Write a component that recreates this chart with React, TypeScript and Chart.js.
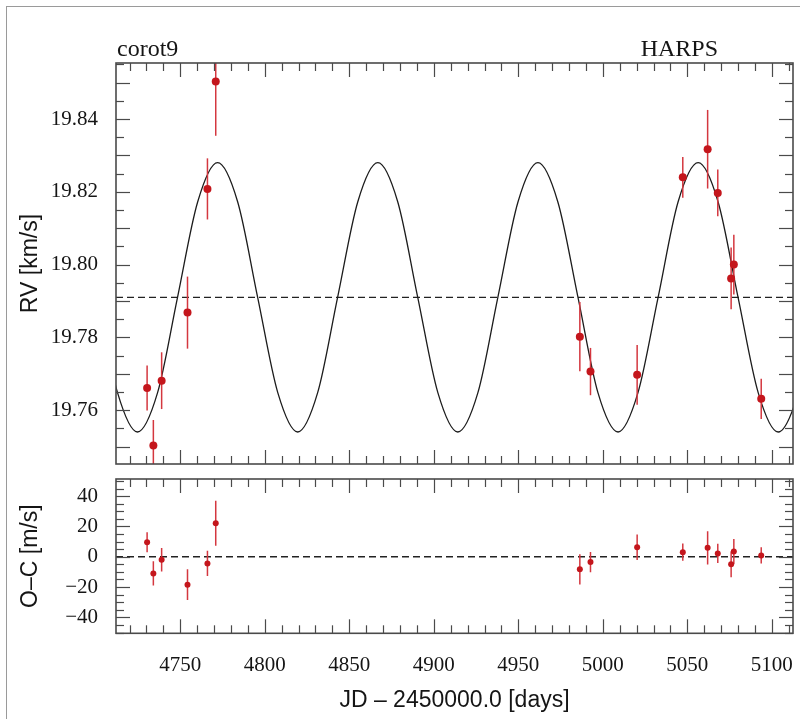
import React, { useEffect, useRef } from 'react';
import { Chart, registerables } from 'chart.js';

Chart.register(...registerables);

// ---- observations (HARPS) ----
const obsTimes = [4730.4, 4734.1, 4739.0, 4754.3, 4766.1, 4771.0, 4986.4, 4992.7, 5020.3, 5047.3, 5062.0, 5068.0, 5075.9, 5077.5, 5093.7];
const rvValues = [19.7661, 19.7503, 19.7681, 19.7868, 19.8208, 19.8503, 19.7802, 19.7706, 19.7697, 19.824, 19.8317, 19.8197, 19.7962, 19.8, 19.7631];
const rvErrors = [0.0062, 0.007, 0.0078, 0.0099, 0.0084, 0.0149, 0.0095, 0.0065, 0.0082, 0.0056, 0.0108, 0.0064, 0.0085, 0.0082, 0.0055];
const ocValues = [9.6, -11, -2, -18.4, -4.4, 22.1, -8.3, -3.5, 6.3, 3.0, 5.9, 2.2, -5.0, 3.5, 0.9];
const ocErrors = [6.6, 8, 7.7, 10.2, 8.3, 14.8, 10, 6.7, 8.4, 5.7, 11, 6.3, 8.5, 8.2, 5.4];

// ---- orbit model curve (extrema, mean crossings, octants) ----
const modelTimes = [4701.0, 4712.9, 4724.7, 4736.6, 4748.4, 4760.3, 4772.1, 4784.0, 4795.8, 4807.7, 4819.5, 4831.3, 4843.1, 4855.0, 4866.9, 4878.7, 4890.5, 4902.4, 4914.2, 4926.1, 4937.9, 4949.8, 4961.6, 4973.4, 4985.3, 4997.1, 5009.0, 5020.8, 5032.7, 5044.5, 5056.4, 5068.2, 5080.0, 5091.9, 5103.7, 5115.6, 5127.4];
const modelRV = [19.791, 19.7648, 19.754, 19.7648, 19.791, 19.8172, 19.828, 19.8172, 19.791, 19.7648, 19.754, 19.7648, 19.791, 19.8172, 19.828, 19.8172, 19.791, 19.7648, 19.754, 19.7648, 19.791, 19.8172, 19.828, 19.8172, 19.791, 19.7648, 19.754, 19.7648, 19.791, 19.8172, 19.828, 19.8172, 19.791, 19.7648, 19.754, 19.7648, 19.791];
const systemicRV = 19.791;

// ---- ticks ----
const xTickValues = [4750, 4800, 4850, 4900, 4950, 5000, 5050, 5100];
const rvTickValues = [19.76, 19.78, 19.8, 19.82, 19.84];
const ocTickValues = [-40, -20, 0, 20, 40];

const X_MIN = 4712, X_MAX = 5112.5;
const RV_MIN = 19.7452, RV_MAX = 19.8554;
const OC_MIN = -50.5, OC_MAX = 51.3;

const SERIF = "'Liberation Serif', 'Times New Roman', serif";
const SANS = "'Liberation Sans', Arial, sans-serif";
const INK = '#151515';
const FRAME = '#4a4a4a';

type FrameCfg = {
  values: number[];
  errors: number[];
  yMinor: number;
  yMajorEvery: number;
  corner?: boolean;
};

function makeFramePlugin(cfg: FrameCfg) {
  return {
    id: 'frameTicks',
    beforeDatasetDraw(chart: any, args: any) {
      if (args.index !== 0) return;
      const { ctx, chartArea: a } = chart;
      const xs = chart.scales.x, ys = chart.scales.y;
      ctx.save();
      ctx.beginPath();
      ctx.rect(a.left, a.top, a.right - a.left, a.bottom - a.top);
      ctx.clip();
      ctx.strokeStyle = '#d4373f';
      ctx.lineWidth = 1.5;
      obsTimes.forEach((t, i) => {
        const px = xs.getPixelForValue(t);
        ctx.beginPath();
        ctx.moveTo(px, ys.getPixelForValue(cfg.values[i] - cfg.errors[i]));
        ctx.lineTo(px, ys.getPixelForValue(cfg.values[i] + cfg.errors[i]));
        ctx.stroke();
      });
      ctx.restore();
    },
    afterDraw(chart: any) {
      const { ctx, chartArea: a } = chart;
      const xs = chart.scales.x, ys = chart.scales.y;
      ctx.save();
      ctx.strokeStyle = FRAME;
      ctx.lineWidth = 1.2;
      const seg = (x1: number, y1: number, x2: number, y2: number) => {
        ctx.beginPath();
        ctx.moveTo(x1, y1);
        ctx.lineTo(x2, y2);
        ctx.stroke();
      };
      // x ticks every 10 days, long every 50
      for (let k = Math.ceil(xs.min / 10); k <= Math.floor(xs.max / 10); k++) {
        const px = Math.round(xs.getPixelForValue(k * 10)) + 0.5;
        const len = k % 5 === 0 ? 14 : 8;
        seg(px, a.bottom, px, a.bottom - len);
        seg(px, a.top, px, a.top + len);
      }
      // y ticks
      for (let k = Math.ceil(ys.min / cfg.yMinor - 1e-9); k <= Math.floor(ys.max / cfg.yMinor + 1e-9); k++) {
        const py = Math.round(ys.getPixelForValue(k * cfg.yMinor)) + 0.5;
        const len = k % cfg.yMajorEvery === 0 ? 14 : 8;
        seg(a.left, py, a.left + len, py);
        seg(a.right, py, a.right - len, py);
      }
      // frame
      ctx.lineWidth = 1.6;
      ctx.strokeRect(a.left, a.top, a.right - a.left, a.bottom - a.top);
      if (cfg.corner) {
        ctx.fillStyle = INK;
        ctx.font = `24px ${SERIF}`;
        ctx.textBaseline = 'alphabetic';
        ctx.textAlign = 'left';
        ctx.fillText('corot9', a.left + 1, a.top - 7);
        ctx.textAlign = 'right';
        ctx.fillText('HARPS', 718, a.top - 7);
      }
      ctx.restore();
    },
  };
}

const noPad = (s: any) => {
  s.paddingTop = 0;
  s.paddingBottom = 0;
  s.paddingLeft = 0;
  s.paddingRight = 0;
};

export default function App() {
  const topRef = useRef<HTMLCanvasElement>(null);
  const botRef = useRef<HTMLCanvasElement>(null);

  useEffect(() => {
    document.body.style.margin = '0';
    const top = new Chart(topRef.current as HTMLCanvasElement, {
      type: 'scatter',
      data: {
        datasets: [
          {
            data: obsTimes.map((t, i) => ({ x: t, y: rvValues[i] })),
            pointRadius: 4,
            pointBackgroundColor: '#c4161c',
            pointBorderWidth: 0,
            showLine: false,
          },
          {
            data: modelTimes.map((t, i) => ({ x: t, y: modelRV[i] })),
            showLine: true,
            pointRadius: 0,
            borderColor: '#1c1c1c',
            borderWidth: 1.3,
            cubicInterpolationMode: 'monotone',
            fill: false,
          },
          {
            data: [
              { x: X_MIN, y: systemicRV },
              { x: X_MAX, y: systemicRV },
            ],
            showLine: true,
            pointRadius: 0,
            borderColor: '#222',
            borderWidth: 1.3,
            borderDash: [7, 4],
            fill: false,
          },
        ] as any,
      },
      options: {
        responsive: false,
        animation: false,
        devicePixelRatio: 1,
        layout: { padding: { top: 63, bottom: 8, left: 0, right: 7 } },
        plugins: { legend: { display: false }, tooltip: { enabled: false } },
        scales: {
          x: { type: 'linear', min: X_MIN, max: X_MAX, display: false },
          y: {
            type: 'linear',
            min: RV_MIN,
            max: RV_MAX,
            grid: { display: false, drawTicks: false },
            border: { display: false },
            afterBuildTicks: (s: any) => {
              s.ticks = rvTickValues.map((value) => ({ value }));
            },
            afterFit: (s: any) => {
              s.width = 116;
              noPad(s);
            },
            ticks: {
              autoSkip: false,
              padding: 18,
              color: INK,
              font: { family: SERIF, size: 21 },
              callback: (v: any) => Number(v).toFixed(2),
            },
            title: {
              display: true,
              text: 'RV [km/s]',
              color: INK,
              font: { family: SANS, size: 23 },
              padding: { top: 17, bottom: 0 },
            },
          },
        },
      } as any,
      plugins: [makeFramePlugin({ values: rvValues, errors: rvErrors, yMinor: 0.005, yMajorEvery: 2, corner: true })],
    });

    const bot = new Chart(botRef.current as HTMLCanvasElement, {
      type: 'scatter',
      data: {
        datasets: [
          {
            data: obsTimes.map((t, i) => ({ x: t, y: ocValues[i] })),
            pointRadius: 3,
            pointBackgroundColor: '#c4161c',
            pointBorderWidth: 0,
            showLine: false,
          },
          {
            data: [
              { x: X_MIN, y: 0 },
              { x: X_MAX, y: 0 },
            ],
            showLine: true,
            pointRadius: 0,
            borderColor: '#222',
            borderWidth: 1.3,
            borderDash: [7, 4],
            fill: false,
          },
        ] as any,
      },
      options: {
        responsive: false,
        animation: false,
        devicePixelRatio: 1,
        layout: { padding: { top: 7, bottom: 0, left: 0, right: 7 } },
        plugins: { legend: { display: false }, tooltip: { enabled: false } },
        scales: {
          x: {
            type: 'linear',
            min: X_MIN,
            max: X_MAX,
            grid: { display: false, drawTicks: false },
            border: { display: false },
            afterBuildTicks: (s: any) => {
              s.ticks = xTickValues.map((value) => ({ value }));
            },
            afterFit: (s: any) => {
              s.height = 85.7;
              noPad(s);
            },
            ticks: {
              autoSkip: false,
              maxRotation: 0,
              padding: 20,
              color: INK,
              font: { family: SERIF, size: 21 },
              callback: (v: any) => String(v),
            },
            title: {
              display: true,
              text: 'JD – 2450000.0 [days]',
              color: INK,
              font: { family: SANS, size: 23 },
              padding: { top: 0, bottom: 5 },
            },
          },
          y: {
            type: 'linear',
            min: OC_MIN,
            max: OC_MAX,
            grid: { display: false, drawTicks: false },
            border: { display: false },
            afterBuildTicks: (s: any) => {
              s.ticks = ocTickValues.map((value) => ({ value }));
            },
            afterFit: (s: any) => {
              s.width = 116;
              noPad(s);
            },
            ticks: {
              autoSkip: false,
              padding: 18,
              color: INK,
              font: { family: SERIF, size: 21 },
              callback: (v: any) => (Number(v) < 0 ? '\u2212' + Math.abs(Number(v)) : String(v)),
            },
            title: {
              display: true,
              text: 'O–C [m/s]',
              color: INK,
              font: { family: SANS, size: 23 },
              padding: { top: 17, bottom: 0 },
            },
          },
        },
      } as any,
      plugins: [makeFramePlugin({ values: ocValues, errors: ocErrors, yMinor: 5, yMajorEvery: 4 })],
    });

    return () => {
      top.destroy();
      bot.destroy();
    };
  }, []);

  return (
    <div style={{ position: 'relative', width: 800, height: 719, background: '#ffffff', overflow: 'hidden' }}>
      <div
        style={{
          position: 'absolute',
          left: 6,
          top: 6,
          width: 794,
          height: 713,
          borderTop: '1px solid #9a9a9a',
          borderLeft: '1px solid #9a9a9a',
        }}
      />
      <canvas ref={topRef} width={800} height={472} style={{ position: 'absolute', left: 0, top: 0, width: 800, height: 472 }} />
      <canvas ref={botRef} width={800} height={247} style={{ position: 'absolute', left: 0, top: 472, width: 800, height: 247 }} />
    </div>
  );
}
